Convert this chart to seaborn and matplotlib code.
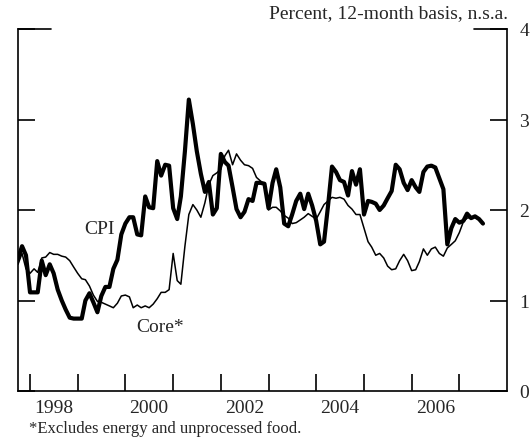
import numpy as np
import pandas as pd
import matplotlib
matplotlib.use("Agg")
import matplotlib.pyplot as plt
import seaborn as sns

# Monthly data, Oct 1997 - Jul 2007 (percent, 12-month basis)
cpi = [1.46, 1.60, 1.50, 1.09, 1.09, 1.09, 1.44, 1.28, 1.40, 1.30,
       1.12, 1.00, 0.90, 0.81, 0.80, 0.80, 0.80, 1.00, 1.08, 0.98,
       0.87, 1.05, 1.15, 1.15, 1.35, 1.45, 1.73, 1.85, 1.92, 1.92,
       1.73, 1.72, 2.15, 2.03, 2.02, 2.54, 2.38, 2.50, 2.49, 2.02,
       1.90, 2.15, 2.65, 3.22, 2.95, 2.65, 2.40, 2.20, 2.31, 1.95,
       2.02, 2.62, 2.53, 2.49, 2.25, 2.01, 1.92, 1.98, 2.12, 2.10,
       2.30, 2.30, 2.29, 2.02, 2.30, 2.45, 2.25, 1.85, 1.82, 1.95,
       2.10, 2.18, 2.01, 2.18, 2.05, 1.88, 1.62, 1.65, 2.05, 2.48,
       2.42, 2.33, 2.31, 2.16, 2.43, 2.28, 2.45, 1.95, 2.10, 2.09,
       2.07, 2.00, 2.05, 2.13, 2.21, 2.50, 2.45, 2.30, 2.22, 2.33,
       2.25, 2.20, 2.42, 2.48, 2.49, 2.47, 2.35, 2.23, 1.62, 1.80,
       1.90, 1.86, 1.88, 1.96, 1.91, 1.93, 1.90, 1.85]
core = [1.40, 1.52, 1.35, 1.30, 1.35, 1.31, 1.47, 1.48, 1.53, 1.51,
        1.51, 1.49, 1.48, 1.44, 1.37, 1.30, 1.24, 1.23, 1.16, 1.06,
        0.99, 0.98, 0.96, 0.94, 0.92, 0.97, 1.05, 1.06, 1.04, 0.92,
        0.95, 0.92, 0.94, 0.92, 0.96, 1.02, 1.09, 1.09, 1.12, 1.52,
        1.22, 1.18, 1.60, 1.95, 2.06, 2.00, 1.92, 2.08, 2.28, 2.38,
        2.41, 2.45, 2.60, 2.66, 2.50, 2.62, 2.55, 2.50, 2.49, 2.46,
        2.36, 2.32, 2.28, 2.00, 2.03, 2.03, 1.99, 1.94, 1.91, 1.85,
        1.86, 1.89, 1.92, 1.96, 1.93, 1.90, 1.98, 2.06, 2.10, 2.14,
        2.13, 2.14, 2.12, 2.05, 2.01, 1.95, 1.95, 1.80, 1.65, 1.59,
        1.50, 1.52, 1.47, 1.38, 1.34, 1.35, 1.44, 1.51, 1.44, 1.33,
        1.34, 1.43, 1.57, 1.50, 1.57, 1.59, 1.52, 1.49, 1.58, 1.62,
        1.66, 1.75, 1.87, 1.91, 1.92, 1.92, 1.89, 1.85]
dates = pd.date_range("1997-10-01", periods=len(cpi), freq="MS")
year_labels = ["1998", "2000", "2002", "2004", "2006"]
y_ticks = [0, 1, 2, 3, 4]

df = pd.DataFrame({"date": dates, "CPI": cpi, "Core": core})

sns.set_style("ticks")
plt.rcParams["font.family"] = ["Liberation Serif", "DejaVu Serif"]

fig = plt.figure(figsize=(5.31, 4.39), dpi=100)
ax = fig.add_axes([18/531, 1-392/439, (507-18)/531, (392-30)/439])

sns.lineplot(data=df, x="date", y="Core", ax=ax, color="black", linewidth=1.1)
sns.lineplot(data=df, x="date", y="CPI", ax=ax, color="black", linewidth=3.0)

ax.set_xlim(pd.Timestamp("1997-10-01"), pd.Timestamp("2008-01-01"))
ax.set_ylim(0, 4)
ax.set_xlabel("")
ax.set_ylabel("")

# x: major ticks at year boundaries, labels mid-year
ax.set_xticks([pd.Timestamp(f"{y}-01-01") for y in range(1998, 2008)])
ax.set_xticklabels([])
ax.set_xticks([pd.Timestamp(f"{y}-07-01") for y in year_labels], minor=True)
ax.set_xticklabels(year_labels, minor=True, fontsize=14)
ax.tick_params(axis="x", which="major", direction="in", length=12, width=1.2, color="black")
ax.tick_params(axis="x", which="minor", length=0, pad=6)

ax.set_yticks(y_ticks)
ax.set_yticklabels([str(v) for v in y_ticks], fontsize=14)
ax.tick_params(axis="y", direction="in", length=12, width=1.2, left=True, right=True,
               labelleft=False, labelright=True, pad=9, color="black")

for s in ["left", "right", "bottom"]:
    ax.spines[s].set_visible(True)
    ax.spines[s].set_color("black")
    ax.spines[s].set_linewidth(1.2)
ax.spines["top"].set_visible(False)
ax.axhline(4, xmin=0, xmax=33/489, color="black", lw=1.2, clip_on=False)
ax.axhline(4, xmin=1-33/489, xmax=1, color="black", lw=1.2, clip_on=False)

ax.annotate("CPI", xy=(84/531, 1-230/439), xycoords="figure fraction",
            fontsize=14, va="center", ha="left")
ax.annotate("Core*", xy=(136/531, 1-328/439), xycoords="figure fraction",
            fontsize=14, va="center", ha="left")

fig.text(508/531, 1-14/439, "Percent, 12-month basis, n.s.a.", ha="right", va="center", fontsize=14)
fig.text(29/531, 1-429/439, "*Excludes energy and unprocessed food.", ha="left", va="center", fontsize=12)

fig.savefig("out.png", dpi=100)
